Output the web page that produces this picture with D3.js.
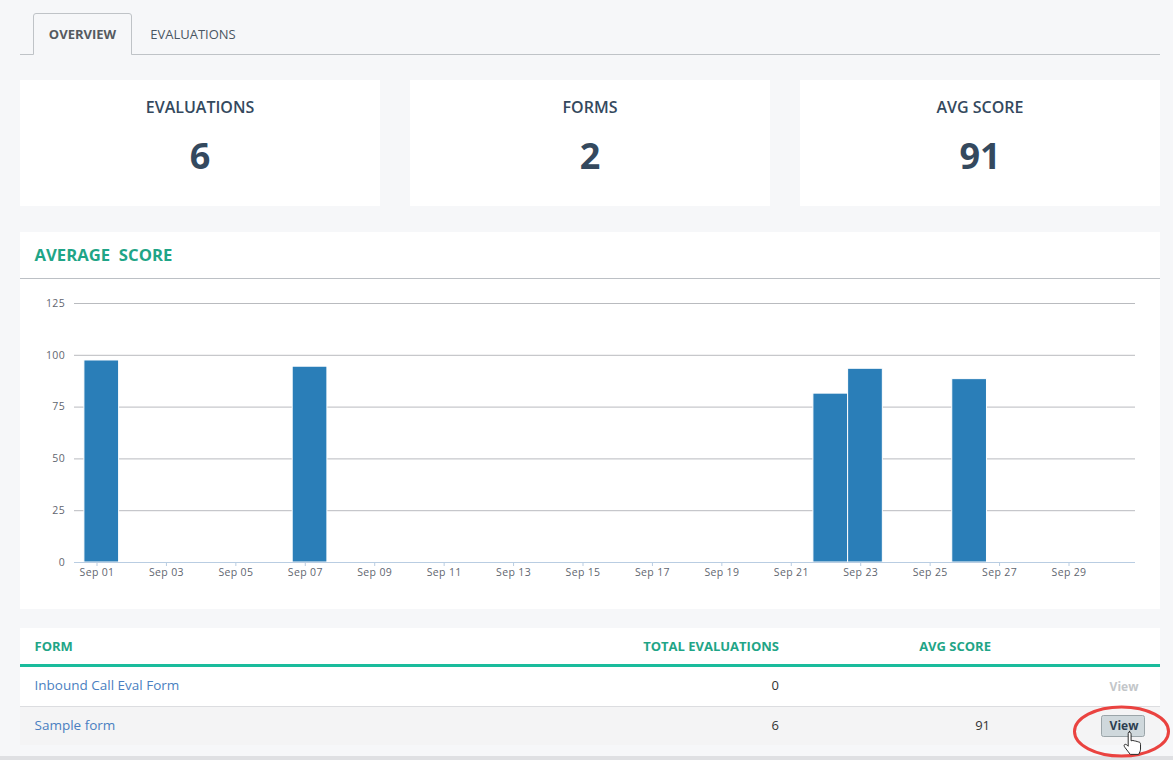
<!DOCTYPE html>
<html>
<head>
<meta charset="utf-8">
<script src="https://cdn.jsdelivr.net/npm/d3@7"></script>
<style>
  html, body { margin: 0; padding: 0; background: #f6f7f9; overflow: hidden; }
  svg { display: block; font-family: "Open Sans", sans-serif; }
  .grid line { stroke: #b9bbbf; }
  .grid .domain { display: none; }
  .y-axis text, .x-axis text { fill: #5f6670; font-size: 10.5px; letter-spacing: .35px; }
</style>
</head>
<body>
<svg id="page" width="1173" height="760"></svg>
<script>
var tabLabels = ['OVERVIEW', 'EVALUATIONS'];
var cardTitles = ['EVALUATIONS', 'FORMS', 'AVG SCORE'];
var cardValues = ['6', '2', '91'];

var barDays = [1, 7, 22, 23, 26];
var barScores = [97.5, 94.5, 81.5, 93.5, 88.5];
var yTicks = [0, 25, 50, 75, 100, 125];
var xTickDays = [1, 3, 5, 7, 9, 11, 13, 15, 17, 19, 21, 23, 25, 27, 29];

var tableHeaders = ['FORM', 'TOTAL EVALUATIONS', 'AVG SCORE'];
var formNames = ['Inbound Call Eval Form', 'Sample form'];
var formTotals = ['0', '6'];
var formScores = ['', '91'];

var svg = d3.select('#page');
var cardX = [20, 410, 800];

var text = function(x, y, str, size, weight, fill, anchor) {
  return svg.append('text')
    .attr('x', x).attr('y', y)
    .attr('font-size', size).attr('font-weight', weight)
    .attr('fill', fill).attr('text-anchor', anchor || 'start')
    .text(str);
};

var rect = function(x, y, w, h, fill) {
  return svg.append('rect')
    .attr('x', x).attr('y', y).attr('width', w).attr('height', h)
    .attr('fill', fill);
};

// tabs
svg.append('path')
  .attr('d', 'M20 54.5H33.5V16Q33.5 13.5 36 13.5H129Q131.5 13.5 131.5 16V54.5H1160')
  .attr('fill', 'none').attr('stroke', '#bfc3c7');
text(82.5, 39, tabLabels[0], 13, 700, '#555a60', 'middle');
text(193, 39, tabLabels[1], 13, 400, '#4a5663', 'middle');

// summary cards
cardTitles.forEach(function(title, i) {
  rect(cardX[i], 80, 360, 126, '#fff');
  text(cardX[i] + 180, 113, title, 16, 600, '#34495e', 'middle');
  text(cardX[i] + 180, 169, cardValues[i], 36, 700, '#34495e', 'middle');
});

// chart panel
rect(20, 232, 1140, 377, '#fff');
rect(20, 278, 1140, 1, '#bcc0c5');
text(34.5, 261, 'AVERAGE  SCORE', 16.7, 700, '#1fa587').attr('xml:space', 'preserve');

var y = d3.scaleLinear().domain([0, 125]).range([562, 303]);
var x = d3.scaleLinear().domain([1, 29]).range([96.5, 1068.5]);
var barWidth = x(2) - x(1);

// d3 axes set their own font-family, drop it so the page font applies
var yAxis = d3.axisLeft(y).tickValues(yTicks).tickSize(-1061).tickPadding(9);
svg.append('g')
  .attr('class', 'grid y-axis')
  .attr('transform', 'translate(74,0)')
  .call(yAxis)
  .attr('font-family', null);

svg.selectAll('.bar')
  .data(barDays)
  .enter().append('rect')
  .attr('class', 'bar')
  .attr('x', function(d) { return x(d) - 12.6; })
  .attr('y', function(d, i) { return y(barScores[i]); })
  .attr('width', barWidth)
  .attr('height', function(d, i) { return y(0) - y(barScores[i]); })
  .attr('fill', '#2a7eb8')
  .attr('stroke', '#fff')
  .attr('stroke-width', 1);

var xAxis = d3.axisBottom(x)
  .tickValues(xTickDays)
  .tickSize(4)
  .tickPadding(3)
  .tickFormat(function(d) { return 'Sep ' + d3.format('02')(d); });
var xAxisG = svg.append('g')
  .attr('class', 'x-axis')
  .attr('transform', 'translate(0,562)')
  .call(xAxis)
  .attr('font-family', null);
xAxisG.selectAll('line').attr('stroke', '#b9cde2');
xAxisG.select('.domain').remove();
xAxisG.insert('line', ':first-child')
  .attr('x1', 74).attr('x2', 1135)
  .attr('stroke', '#b9cde2').attr('y1', 0.5).attr('y2', 0.5);

// table
rect(20, 628, 1140, 36, '#fff');
rect(20, 664, 1140, 3, '#1abc9c');
rect(20, 667, 1140, 39, '#fff');
rect(20, 706, 1140, 1, '#dcdde0');
rect(20, 707, 1140, 38, '#f4f4f5');
rect(0, 756, 1173, 4, '#dfe0e3');

text(34.5, 651, tableHeaders[0], 13, 700, '#1fa587');
text(779, 651, tableHeaders[1], 13, 700, '#1fa587', 'end');
text(991, 651, tableHeaders[2], 13, 700, '#1fa587', 'end');

formNames.forEach(function(name, i) {
  var rowY = 690 + i * 40;
  text(34.5, rowY, name, 13.5, 400, '#4a7fc1');
  text(779, rowY, formTotals[i], 13, 400, '#333', 'end');
  text(990, rowY, formScores[i], 13, 400, '#333', 'end');
});

// view buttons
text(1124, 691, 'View', 12, 700, '#c3c6c9', 'middle');
svg.append('rect')
  .attr('x', 1101.5).attr('y', 715.5).attr('width', 43).attr('height', 21).attr('rx', 2)
  .attr('fill', '#cfd8dc').attr('stroke', '#9ba5a9');
text(1124, 730, 'View', 12, 700, '#2c3e50', 'middle');

// red highlight and hand cursor
svg.append('ellipse')
  .attr('cx', 1121.5).attr('cy', 731.5).attr('rx', 47).attr('ry', 24.5)
  .attr('fill', 'none').attr('stroke', '#ea4340').attr('stroke-width', 3);
svg.append('path')
  .attr('d', 'M1129 733c1.6 0 2.6 1 2.6 3v8l2.2-.4c1.6 0 2.4 1 3.6.8 1.4 0 2.4 1 3.4 1 1.6 0 2.6 1.2 2.6 3v6c0 2.4-1.4 4.6-2.4 6.6h-10.4l-6.6-8.6c-1-1.4-1.6-2.6-.6-3.6 1-.8 2.4-.2 3.4.8l1.2 1.2v-15.8c0-1.4 1-3 2.4-3z')
  .attr('transform', 'translate(225.8 145.6) scale(.8)')
  .attr('fill', '#fff').attr('stroke', '#222').attr('stroke-width', 1.2);
</script>
</body>
</html>
